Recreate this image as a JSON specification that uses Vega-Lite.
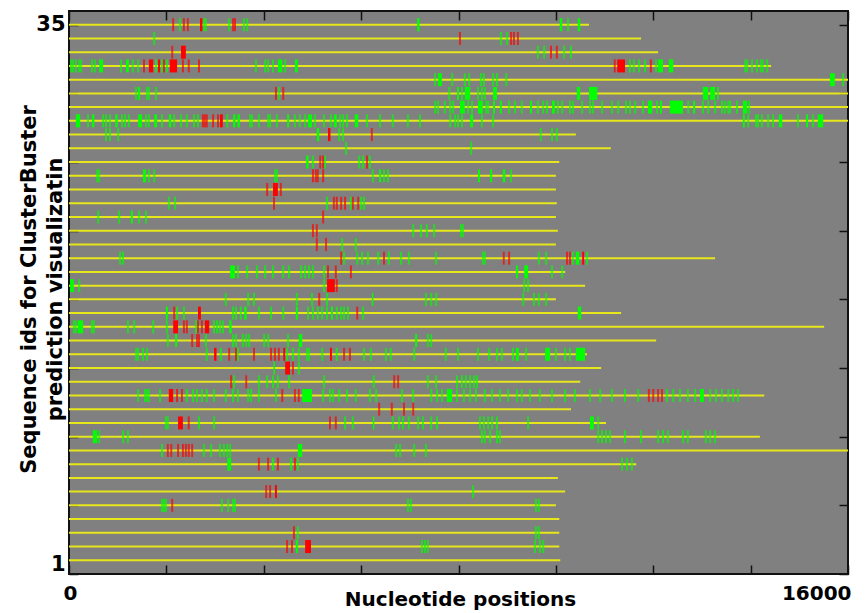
{
"$schema":"https://vega.github.io/schema/vega-lite/v6.json",
"width":779,"height":563,"autosize":"none",
"padding":{"left":69,"top":11,"right":18,"bottom":39},
"background":"white",
"config":{"view":{"fill":"#808080","stroke":"#111111","strokeWidth":2},
"axis":{"labelFont":"DejaVu Sans","titleFont":"DejaVu Sans","labelColor":"black","titleColor":"black","labelFontWeight":"bold","titleFontWeight":"bold","grid":false,"domain":false,"tickColor":"#111111","tickWidth":1.5}},
"datasets":{
"lines":[{"r":40,"len":10680},{"r":39,"len":11750},{"r":38,"len":12100},{"r":37,"len":14420},{"r":36,"len":16000},{"r":35,"len":16000},{"r":34,"len":16000},{"r":33,"len":16000},{"r":32,"len":10410},{"r":31,"len":11130},{"r":30,"len":10070},{"r":29,"len":10000},{"r":28,"len":10000},{"r":27,"len":10020},{"r":26,"len":10000},{"r":25,"len":10040},{"r":24,"len":10000},{"r":23,"len":13270},{"r":22,"len":10190},{"r":21,"len":10600},{"r":20,"len":10000},{"r":19,"len":11340},{"r":18,"len":15510},{"r":17,"len":12060},{"r":16,"len":10640},{"r":15,"len":10930},{"r":14,"len":10500},{"r":13,"len":14280},{"r":12,"len":10310},{"r":11,"len":11030},{"r":10,"len":14190},{"r":9,"len":16000},{"r":8,"len":11650},{"r":7,"len":10040},{"r":6,"len":10190},{"r":5,"len":10000},{"r":4,"len":10070},{"r":3,"len":10070},{"r":2,"len":10070},{"r":1,"len":10090}],
"marks":[
{"r":40,"c":"r","s":2140},{"r":40,"c":"g","s":2280},{"r":40,"c":"r","s":2360},{"r":40,"c":"r","s":2440},{"r":40,"c":"r","s":2690,"e":2740},{"r":40,"c":"g","s":2770},{"r":40,"c":"g","s":2810},{"r":40,"c":"g","s":3290},{"r":40,"c":"r","s":3370},{"r":40,"c":"r","s":3410},{"r":40,"c":"g","s":3590},{"r":40,"c":"g","s":3660},{"r":40,"c":"g","s":7150,"e":7200},{"r":40,"c":"g","s":10080,"e":10130},{"r":40,"c":"g","s":10250},{"r":40,"c":"g","s":10450,"e":10500},
{"r":39,"c":"g","s":1750},{"r":39,"c":"r","s":8030},{"r":39,"c":"g","s":8870},{"r":39,"c":"g","s":9000},{"r":39,"c":"r","s":9080},{"r":39,"c":"r","s":9140},{"r":39,"c":"r","s":9220},
{"r":38,"c":"r","s":2120},{"r":38,"c":"r","s":2300,"e":2400},{"r":38,"c":"g","s":9630},{"r":38,"c":"g","s":9760},{"r":38,"c":"r","s":9900},{"r":38,"c":"r","s":10020},{"r":38,"c":"g","s":10170},{"r":38,"c":"g","s":10310},
{"r":37,"c":"g","s":40},{"r":37,"c":"g","s":80},{"r":37,"c":"g","s":140},{"r":37,"c":"g","s":210},{"r":37,"c":"g","s":250},{"r":37,"c":"g","s":470},{"r":37,"c":"g","s":530},{"r":37,"c":"g","s":620,"e":700},{"r":37,"c":"g","s":1070},{"r":37,"c":"g","s":1170,"e":1230},{"r":37,"c":"g","s":1310},{"r":37,"c":"g","s":1420},{"r":37,"c":"r","s":1540},{"r":37,"c":"r","s":1640,"e":1730},{"r":37,"c":"g","s":1790},{"r":37,"c":"r","s":1830,"e":1870},{"r":37,"c":"g","s":1910},{"r":37,"c":"r","s":1950},{"r":37,"c":"g","s":2010},{"r":37,"c":"r","s":2070,"e":2220},{"r":37,"c":"r","s":2340},{"r":37,"c":"r","s":2460},{"r":37,"c":"r","s":2670},{"r":37,"c":"g","s":3840},{"r":37,"c":"g","s":4030},{"r":37,"c":"g","s":4090},{"r":37,"c":"g","s":4190},{"r":37,"c":"g","s":4290,"e":4380},{"r":37,"c":"g","s":4440},{"r":37,"c":"g","s":4640,"e":4700},{"r":37,"c":"r","s":11210},{"r":37,"c":"r","s":11260,"e":11420},{"r":37,"c":"g","s":11520},{"r":37,"c":"g","s":11600},{"r":37,"c":"g","s":11710},{"r":37,"c":"g","s":11830},{"r":37,"c":"r","s":11950},{"r":37,"c":"g","s":12060},{"r":37,"c":"g","s":12100,"e":12200},{"r":37,"c":"g","s":12320,"e":12410},{"r":37,"c":"g","s":13890},{"r":37,"c":"g","s":13930},{"r":37,"c":"g","s":14030},{"r":37,"c":"g","s":14130},{"r":37,"c":"g","s":14210},{"r":37,"c":"g","s":14250},{"r":37,"c":"g","s":14340},
{"r":36,"c":"g","s":7520},{"r":36,"c":"g","s":7580,"e":7660},{"r":36,"c":"g","s":7870},{"r":36,"c":"g","s":8130},{"r":36,"c":"g","s":8220},{"r":36,"c":"g","s":8460},{"r":36,"c":"g","s":8520},{"r":36,"c":"g","s":8710},{"r":36,"c":"g","s":8790},{"r":36,"c":"g","s":8980},{"r":36,"c":"g","s":15630,"e":15730},{"r":36,"c":"g","s":15900},
{"r":35,"c":"g","s":1380},{"r":35,"c":"g","s":1420,"e":1460},{"r":35,"c":"g","s":1600},{"r":35,"c":"g","s":1640},{"r":35,"c":"g","s":1790},{"r":35,"c":"r","s":4250},{"r":35,"c":"g","s":4310},{"r":35,"c":"r","s":4400},{"r":35,"c":"g","s":7810},{"r":35,"c":"g","s":7970,"e":8010},{"r":35,"c":"g","s":8070},{"r":35,"c":"g","s":8130,"e":8240},{"r":35,"c":"g","s":8400},{"r":35,"c":"g","s":8480},{"r":35,"c":"g","s":8540},{"r":35,"c":"g","s":8710,"e":8790},{"r":35,"c":"g","s":10430,"e":10500},{"r":35,"c":"g","s":10680,"e":10850},{"r":35,"c":"g","s":13020,"e":13130},{"r":35,"c":"g","s":13170,"e":13270},{"r":35,"c":"g","s":13330},
{"r":34,"c":"g","s":7520},{"r":34,"c":"g","s":7580},{"r":34,"c":"g","s":7720},{"r":34,"c":"g","s":7830},{"r":34,"c":"g","s":7890},{"r":34,"c":"g","s":8030,"e":8130},{"r":34,"c":"g","s":8200},{"r":34,"c":"g","s":8280},{"r":34,"c":"g","s":8400,"e":8500},{"r":34,"c":"g","s":8570},{"r":34,"c":"g","s":8610},{"r":34,"c":"g","s":8710,"e":8750},{"r":34,"c":"g","s":8850,"e":8890},{"r":34,"c":"g","s":9040},{"r":34,"c":"g","s":9160},{"r":34,"c":"g","s":9300},{"r":34,"c":"g","s":9470,"e":9510},{"r":34,"c":"g","s":9630},{"r":34,"c":"g","s":9740},{"r":34,"c":"g","s":9820},{"r":34,"c":"g","s":9920,"e":9980},{"r":34,"c":"g","s":10040},{"r":34,"c":"g","s":10130},{"r":34,"c":"g","s":10290},{"r":34,"c":"g","s":10350},{"r":34,"c":"g","s":10540},{"r":34,"c":"g","s":10700},{"r":34,"c":"g","s":10760},{"r":34,"c":"g","s":10950},{"r":34,"c":"g","s":11150},{"r":34,"c":"g","s":11280},{"r":34,"c":"g","s":11440},{"r":34,"c":"g","s":11520},{"r":34,"c":"g","s":11630},{"r":34,"c":"g","s":11790},{"r":34,"c":"g","s":11890,"e":11980},{"r":34,"c":"g","s":12080},{"r":34,"c":"g","s":12140,"e":12180},{"r":34,"c":"g","s":12340,"e":12610},{"r":34,"c":"g","s":12720},{"r":34,"c":"g","s":12820,"e":12860},{"r":34,"c":"g","s":13020},{"r":34,"c":"g","s":13130},{"r":34,"c":"g","s":13270},{"r":34,"c":"g","s":13410},{"r":34,"c":"g","s":13470},{"r":34,"c":"g","s":13540},{"r":34,"c":"g","s":13580},{"r":34,"c":"g","s":13720},{"r":34,"c":"g","s":13840,"e":13930},{"r":34,"c":"g","s":13970},
{"r":33,"c":"g","s":140,"e":230},{"r":33,"c":"g","s":390},{"r":33,"c":"g","s":470,"e":520},{"r":33,"c":"g","s":700},{"r":33,"c":"g","s":760},{"r":33,"c":"g","s":840},{"r":33,"c":"g","s":950,"e":1000},{"r":33,"c":"g","s":1090},{"r":33,"c":"g","s":1150},{"r":33,"c":"g","s":1230},{"r":33,"c":"g","s":1420,"e":1500},{"r":33,"c":"g","s":1580},{"r":33,"c":"g","s":1640},{"r":33,"c":"g","s":1750,"e":1810},{"r":33,"c":"g","s":1910},{"r":33,"c":"g","s":2050,"e":2100},{"r":33,"c":"g","s":2160},{"r":33,"c":"g","s":2300},{"r":33,"c":"g","s":2420},{"r":33,"c":"g","s":2570},{"r":33,"c":"g","s":2650},{"r":33,"c":"r","s":2750},{"r":33,"c":"r","s":2790},{"r":33,"c":"r","s":2830},{"r":33,"c":"r","s":2960},{"r":33,"c":"r","s":3060},{"r":33,"c":"r","s":3100,"e":3160},{"r":33,"c":"g","s":3250},{"r":33,"c":"g","s":3370,"e":3420},{"r":33,"c":"g","s":3460,"e":3510},{"r":33,"c":"g","s":3720},{"r":33,"c":"g","s":3760},{"r":33,"c":"g","s":3900},{"r":33,"c":"g","s":4090},{"r":33,"c":"g","s":4130},{"r":33,"c":"g","s":4270},{"r":33,"c":"g","s":4480,"e":4520},{"r":33,"c":"g","s":4640},{"r":33,"c":"g","s":4740},{"r":33,"c":"g","s":4850},{"r":33,"c":"g","s":4910,"e":4990},{"r":33,"c":"g","s":5050},{"r":33,"c":"g","s":5240},{"r":33,"c":"g","s":5380},{"r":33,"c":"g","s":5440,"e":5500},{"r":33,"c":"g","s":5570},{"r":33,"c":"g","s":5630},{"r":33,"c":"g","s":5710},{"r":33,"c":"g","s":5870,"e":5940},{"r":33,"c":"g","s":6120},{"r":33,"c":"g","s":6390},{"r":33,"c":"g","s":6650},{"r":33,"c":"g","s":6960},{"r":33,"c":"g","s":7210},{"r":33,"c":"g","s":7830},{"r":33,"c":"g","s":7930},{"r":33,"c":"g","s":7990},{"r":33,"c":"g","s":8070},{"r":33,"c":"g","s":8240,"e":8300},{"r":33,"c":"g","s":8480},{"r":33,"c":"g","s":8710},{"r":33,"c":"g","s":13840,"e":13880},{"r":33,"c":"g","s":13950},{"r":33,"c":"g","s":14110},{"r":33,"c":"g","s":14150},{"r":33,"c":"g","s":14230},{"r":33,"c":"g","s":14360},{"r":33,"c":"g","s":14460},{"r":33,"c":"g","s":14580,"e":14650},{"r":33,"c":"g","s":14970},{"r":33,"c":"g","s":15140,"e":15180},{"r":33,"c":"g","s":15280},{"r":33,"c":"g","s":15380,"e":15490},
{"r":32,"c":"g","s":760},{"r":32,"c":"g","s":840},{"r":32,"c":"g","s":1010},{"r":32,"c":"g","s":5090,"e":5140},{"r":32,"c":"r","s":5320,"e":5370},{"r":32,"c":"g","s":5550},{"r":32,"c":"g","s":5630},{"r":32,"c":"r","s":6220},{"r":32,"c":"g","s":9690},{"r":32,"c":"g","s":9920},{"r":32,"c":"g","s":10020},
{"r":31,"c":"g","s":5690},{"r":31,"c":"g","s":8260},
{"r":30,"c":"g","s":4870,"e":4920},{"r":30,"c":"g","s":5010},{"r":30,"c":"r","s":5160},{"r":30,"c":"r","s":5220},{"r":30,"c":"g","s":5260},{"r":30,"c":"g","s":5960},{"r":30,"c":"g","s":6040},{"r":30,"c":"r","s":6120},{"r":30,"c":"g","s":6180},
{"r":29,"c":"g","s":580},{"r":29,"c":"g","s":620},{"r":29,"c":"g","s":1520,"e":1580},{"r":29,"c":"g","s":1640},{"r":29,"c":"g","s":1750},{"r":29,"c":"g","s":4230},{"r":29,"c":"g","s":4270},{"r":29,"c":"r","s":5010},{"r":29,"c":"r","s":5070},{"r":29,"c":"r","s":5110},{"r":29,"c":"r","s":5220},{"r":29,"c":"g","s":6240},{"r":29,"c":"g","s":6370,"e":6410},{"r":29,"c":"g","s":6470},{"r":29,"c":"g","s":6550},{"r":29,"c":"g","s":8400,"e":8440},{"r":29,"c":"g","s":8650,"e":8690},{"r":29,"c":"g","s":8910,"e":8960},{"r":29,"c":"g","s":9080},
{"r":28,"c":"r","s":4070},{"r":28,"c":"r","s":4190,"e":4290},{"r":28,"c":"r","s":4350},
{"r":27,"c":"g","s":2050},{"r":27,"c":"g","s":2180},{"r":27,"c":"r","s":4210},{"r":27,"c":"g","s":5300},{"r":27,"c":"r","s":5440},{"r":27,"c":"r","s":5500},{"r":27,"c":"r","s":5590},{"r":27,"c":"r","s":5670},{"r":27,"c":"g","s":5790},{"r":27,"c":"r","s":5830},{"r":27,"c":"r","s":5940},{"r":27,"c":"g","s":6000},{"r":27,"c":"g","s":6060},
{"r":26,"c":"g","s":600},{"r":26,"c":"g","s":1030},{"r":26,"c":"g","s":1270,"e":1310},{"r":26,"c":"g","s":1440},{"r":26,"c":"g","s":1580},{"r":26,"c":"r","s":5220},
{"r":25,"c":"r","s":5010},{"r":25,"c":"r","s":5090},{"r":25,"c":"g","s":7070},{"r":25,"c":"g","s":7230},{"r":25,"c":"g","s":7350},{"r":25,"c":"g","s":7500},{"r":25,"c":"g","s":8050},{"r":25,"c":"g","s":8090},
{"r":24,"c":"r","s":5090},{"r":24,"c":"r","s":5280},{"r":24,"c":"g","s":5610},{"r":24,"c":"g","s":5890},
{"r":23,"c":"g","s":1050},{"r":23,"c":"g","s":1110},{"r":23,"c":"r","s":5590},{"r":23,"c":"g","s":5650},{"r":23,"c":"g","s":5920},{"r":23,"c":"g","s":6020},{"r":23,"c":"g","s":6140},{"r":23,"c":"g","s":6350},{"r":23,"c":"r","s":6470},{"r":23,"c":"g","s":6570},{"r":23,"c":"g","s":6820},{"r":23,"c":"g","s":6980},{"r":23,"c":"g","s":7540},{"r":23,"c":"g","s":8500},{"r":23,"c":"g","s":8540},{"r":23,"c":"r","s":8930},{"r":23,"c":"r","s":9040},{"r":23,"c":"g","s":9650},{"r":23,"c":"g","s":9800},{"r":23,"c":"r","s":10230},{"r":23,"c":"r","s":10290},{"r":23,"c":"g","s":10350},{"r":23,"c":"g","s":10410,"e":10480},{"r":23,"c":"r","s":10540,"e":10580},{"r":23,"c":"g","s":10640},
{"r":22,"c":"g","s":3310,"e":3410},{"r":22,"c":"g","s":3470},{"r":22,"c":"g","s":3660},{"r":22,"c":"g","s":3860},{"r":22,"c":"g","s":4030},{"r":22,"c":"g","s":4190},{"r":22,"c":"g","s":4400},{"r":22,"c":"g","s":4520},{"r":22,"c":"g","s":4770},{"r":22,"c":"g","s":4850},{"r":22,"c":"g","s":4930},{"r":22,"c":"g","s":5010},{"r":22,"c":"g","s":5240},{"r":22,"c":"r","s":5320},{"r":22,"c":"r","s":5480},{"r":22,"c":"r","s":5790},{"r":22,"c":"g","s":9180,"e":9220},{"r":22,"c":"g","s":9350,"e":9430},{"r":22,"c":"g","s":9920},{"r":22,"c":"g","s":10130},
{"r":21,"c":"g","s":20,"e":100},{"r":21,"c":"g","s":210},{"r":21,"c":"g","s":5240},{"r":21,"c":"r","s":5300,"e":5460},{"r":21,"c":"r","s":5500},{"r":21,"c":"g","s":9350},{"r":21,"c":"g","s":9430},
{"r":20,"c":"g","s":3220},{"r":20,"c":"g","s":3680},{"r":20,"c":"g","s":3800},{"r":20,"c":"g","s":4680},{"r":20,"c":"g","s":4990},{"r":20,"c":"r","s":5140},{"r":20,"c":"g","s":5300},{"r":20,"c":"g","s":6220,"e":6250},{"r":20,"c":"g","s":7330},{"r":20,"c":"g","s":7440},{"r":20,"c":"g","s":7540},{"r":20,"c":"g","s":9330},{"r":20,"c":"g","s":9550},{"r":20,"c":"g","s":9650},{"r":20,"c":"g","s":9800},
{"r":19,"c":"g","s":1990,"e":2030},{"r":19,"c":"r","s":2160},{"r":19,"c":"g","s":2220},{"r":19,"c":"g","s":2360},{"r":19,"c":"r","s":2650,"e":2710},{"r":19,"c":"g","s":3370},{"r":19,"c":"g","s":3430},{"r":19,"c":"g","s":3530},{"r":19,"c":"g","s":3600,"e":3650},{"r":19,"c":"g","s":3900},{"r":19,"c":"g","s":4150},{"r":19,"c":"g","s":4400},{"r":19,"c":"g","s":4660,"e":4700},{"r":19,"c":"g","s":4910},{"r":19,"c":"g","s":5010},{"r":19,"c":"g","s":5110},{"r":19,"c":"g","s":5200},{"r":19,"c":"g","s":5300},{"r":19,"c":"g","s":5380,"e":5420},{"r":19,"c":"g","s":5500},{"r":19,"c":"g","s":5590},{"r":19,"c":"g","s":5650},{"r":19,"c":"g","s":5730},{"r":19,"c":"r","s":5920},{"r":19,"c":"g","s":6040},{"r":19,"c":"g","s":10450,"e":10520},
{"r":18,"c":"g","s":100},{"r":18,"c":"g","s":140},{"r":18,"c":"g","s":180,"e":290},{"r":18,"c":"g","s":470},{"r":18,"c":"g","s":510},{"r":18,"c":"g","s":1210},{"r":18,"c":"g","s":1340},{"r":18,"c":"g","s":1730},{"r":18,"c":"g","s":2010},{"r":18,"c":"r","s":2140,"e":2240},{"r":18,"c":"r","s":2360},{"r":18,"c":"r","s":2420},{"r":18,"c":"g","s":2610},{"r":18,"c":"r","s":2650},{"r":18,"c":"r","s":2730},{"r":18,"c":"r","s":2790,"e":2880},{"r":18,"c":"g","s":2980},{"r":18,"c":"g","s":3040},{"r":18,"c":"g","s":3100},{"r":18,"c":"g","s":3160},{"r":18,"c":"g","s":3290,"e":3340},
{"r":17,"c":"g","s":2030},{"r":17,"c":"g","s":2180,"e":2220},{"r":17,"c":"r","s":2530},{"r":17,"c":"r","s":2630},{"r":17,"c":"r","s":2670},{"r":17,"c":"g","s":2810},{"r":17,"c":"g","s":3370},{"r":17,"c":"g","s":3430},{"r":17,"c":"g","s":3570},{"r":17,"c":"g","s":3640},{"r":17,"c":"g","s":3700},{"r":17,"c":"g","s":4010},{"r":17,"c":"g","s":4090},{"r":17,"c":"g","s":4500},{"r":17,"c":"g","s":4720,"e":4790},{"r":17,"c":"g","s":7110,"e":7150},{"r":17,"c":"g","s":7370},{"r":17,"c":"g","s":7440},
{"r":16,"c":"g","s":1380},{"r":16,"c":"g","s":1420},{"r":16,"c":"g","s":1520},{"r":16,"c":"g","s":1600},{"r":16,"c":"g","s":2830},{"r":16,"c":"r","s":2980,"e":3030},{"r":16,"c":"g","s":3120},{"r":16,"c":"r","s":3290},{"r":16,"c":"r","s":3430},{"r":16,"c":"g","s":3470},{"r":16,"c":"r","s":3800},{"r":16,"c":"r","s":4150},{"r":16,"c":"r","s":4230},{"r":16,"c":"r","s":4310},{"r":16,"c":"r","s":4400,"e":4440},{"r":16,"c":"g","s":4480},{"r":16,"c":"g","s":4600},{"r":16,"c":"g","s":4720},{"r":16,"c":"g","s":4890},{"r":16,"c":"g","s":4930},{"r":16,"c":"g","s":5200},{"r":16,"c":"r","s":5360,"e":5400},{"r":16,"c":"g","s":5500},{"r":16,"c":"r","s":5650},{"r":16,"c":"r","s":5770},{"r":16,"c":"g","s":6060},{"r":16,"c":"g","s":6200},{"r":16,"c":"g","s":6510},{"r":16,"c":"g","s":6610},{"r":16,"c":"g","s":7090},{"r":16,"c":"g","s":7740},{"r":16,"c":"g","s":7990},{"r":16,"c":"g","s":8400},{"r":16,"c":"g","s":8630},{"r":16,"c":"g","s":8790},{"r":16,"c":"g","s":8890},{"r":16,"c":"g","s":9120},{"r":16,"c":"g","s":9180,"e":9240},{"r":16,"c":"g","s":9390},{"r":16,"c":"g","s":9780,"e":9880},{"r":16,"c":"g","s":10000},{"r":16,"c":"g","s":10190},{"r":16,"c":"g","s":10290},{"r":16,"c":"g","s":10410,"e":10600},
{"r":15,"c":"g","s":4200,"e":4230},{"r":15,"c":"r","s":4440,"e":4540},{"r":15,"c":"r","s":4600},{"r":15,"c":"g","s":4720},
{"r":14,"c":"r","s":3330},{"r":14,"c":"g","s":3390},{"r":14,"c":"r","s":3640},{"r":14,"c":"g","s":3900},{"r":14,"c":"g","s":4070},{"r":14,"c":"g","s":4190},{"r":14,"c":"g","s":4290},{"r":14,"c":"g","s":4520},{"r":14,"c":"g","s":5240},{"r":14,"c":"g","s":6260},{"r":14,"c":"r","s":6680},{"r":14,"c":"r","s":6760},{"r":14,"c":"g","s":7370},{"r":14,"c":"g","s":7540},{"r":14,"c":"g","s":7970},{"r":14,"c":"g","s":8070},{"r":14,"c":"g","s":8150},{"r":14,"c":"g","s":8240},{"r":14,"c":"g","s":8320},{"r":14,"c":"g","s":8380},
{"r":13,"c":"g","s":1420},{"r":13,"c":"g","s":1560},{"r":13,"c":"g","s":1600},{"r":13,"c":"g","s":1640},{"r":13,"c":"g","s":1870},{"r":13,"c":"r","s":2050,"e":2140},{"r":13,"c":"r","s":2220},{"r":13,"c":"r","s":2320},{"r":13,"c":"g","s":2420},{"r":13,"c":"g","s":2550},{"r":13,"c":"g","s":2630},{"r":13,"c":"g","s":2730},{"r":13,"c":"g","s":2830},{"r":13,"c":"g","s":2980},{"r":13,"c":"g","s":3220},{"r":13,"c":"g","s":3370},{"r":13,"c":"g","s":3470},{"r":13,"c":"g","s":3680},{"r":13,"c":"g","s":3740},{"r":13,"c":"g","s":3900},{"r":13,"c":"g","s":4250},{"r":13,"c":"r","s":4380},{"r":13,"c":"r","s":4640},{"r":13,"c":"r","s":4720},{"r":13,"c":"g","s":4790,"e":4990},{"r":13,"c":"g","s":5220},{"r":13,"c":"g","s":5360},{"r":13,"c":"g","s":5420},{"r":13,"c":"g","s":5550},{"r":13,"c":"g","s":5710},{"r":13,"c":"g","s":5890},{"r":13,"c":"g","s":6180},{"r":13,"c":"g","s":6310},{"r":13,"c":"g","s":6840},{"r":13,"c":"g","s":7070},{"r":13,"c":"g","s":7440},{"r":13,"c":"g","s":7560},{"r":13,"c":"g","s":7660},{"r":13,"c":"g","s":7760,"e":7870},{"r":13,"c":"g","s":7970},{"r":13,"c":"g","s":8110},{"r":13,"c":"g","s":8240},{"r":13,"c":"g","s":8360},{"r":13,"c":"g","s":8540},{"r":13,"c":"g","s":8690},{"r":13,"c":"g","s":8850},{"r":13,"c":"g","s":9020},{"r":13,"c":"g","s":9200},{"r":13,"c":"g","s":9300},{"r":13,"c":"g","s":9470},{"r":13,"c":"g","s":9670},{"r":13,"c":"g","s":9920},{"r":13,"c":"g","s":10190},{"r":13,"c":"g","s":10390},{"r":13,"c":"g","s":10700},{"r":13,"c":"g","s":10910},{"r":13,"c":"g","s":11150},{"r":13,"c":"g","s":11420},{"r":13,"c":"g","s":11690},{"r":13,"c":"r","s":11910},{"r":13,"c":"r","s":12000},{"r":13,"c":"r","s":12100},{"r":13,"c":"r","s":12180},{"r":13,"c":"g","s":12280},{"r":13,"c":"g","s":12410},{"r":13,"c":"g","s":12550},{"r":13,"c":"g","s":12710},{"r":13,"c":"g","s":12860},{"r":13,"c":"g","s":12960,"e":13040},{"r":13,"c":"g","s":13170},{"r":13,"c":"g","s":13290},{"r":13,"c":"g","s":13410},{"r":13,"c":"g","s":13540},{"r":13,"c":"g","s":13640},{"r":13,"c":"g","s":13740},
{"r":12,"c":"r","s":6370},{"r":12,"c":"r","s":6630},{"r":12,"c":"r","s":6880},{"r":12,"c":"r","s":7070},
{"r":11,"c":"g","s":1990},{"r":11,"c":"g","s":2030},{"r":11,"c":"r","s":2240,"e":2340},{"r":11,"c":"r","s":2460},{"r":11,"c":"g","s":2670},{"r":11,"c":"g","s":2980},{"r":11,"c":"r","s":5360},{"r":11,"c":"r","s":5480},{"r":11,"c":"g","s":5670},{"r":11,"c":"g","s":5830},{"r":11,"c":"g","s":6240,"e":6270},{"r":11,"c":"g","s":6650},{"r":11,"c":"g","s":6780},{"r":11,"c":"g","s":6860},{"r":11,"c":"g","s":6980},{"r":11,"c":"g","s":7170},{"r":11,"c":"g","s":7270},{"r":11,"c":"g","s":7440},{"r":11,"c":"g","s":7560},{"r":11,"c":"g","s":8440},{"r":11,"c":"g","s":8520},{"r":11,"c":"g","s":8610},{"r":11,"c":"g","s":8690},{"r":11,"c":"g","s":8790},{"r":11,"c":"g","s":9430},{"r":11,"c":"g","s":10700,"e":10780},{"r":11,"c":"g","s":10870},
{"r":10,"c":"g","s":490,"e":580},{"r":10,"c":"g","s":620},{"r":10,"c":"g","s":1110},{"r":10,"c":"g","s":1210},{"r":10,"c":"g","s":8480},{"r":10,"c":"g","s":8540},{"r":10,"c":"g","s":8650},{"r":10,"c":"g","s":8790},{"r":10,"c":"g","s":8850},{"r":10,"c":"g","s":10870},{"r":10,"c":"g","s":10950},{"r":10,"c":"g","s":11030},{"r":10,"c":"g","s":11110},{"r":10,"c":"g","s":11420},{"r":10,"c":"g","s":11750},{"r":10,"c":"g","s":12100},{"r":10,"c":"g","s":12200},{"r":10,"c":"g","s":12300},{"r":10,"c":"g","s":12610},{"r":10,"c":"g","s":12710},{"r":10,"c":"g","s":13080},{"r":10,"c":"g","s":13170},{"r":10,"c":"g","s":13270},
{"r":9,"c":"g","s":1910},{"r":9,"c":"r","s":2030},{"r":9,"c":"r","s":2100},{"r":9,"c":"r","s":2240},{"r":9,"c":"r","s":2340},{"r":9,"c":"r","s":2400},{"r":9,"c":"r","s":2460},{"r":9,"c":"r","s":2530},{"r":9,"c":"g","s":2770},{"r":9,"c":"g","s":2920},{"r":9,"c":"g","s":3100},{"r":9,"c":"g","s":3180},{"r":9,"c":"g","s":3250},{"r":9,"c":"g","s":3310},{"r":9,"c":"g","s":4700,"e":4790},{"r":9,"c":"g","s":6720},{"r":9,"c":"g","s":6800},{"r":9,"c":"g","s":7090},{"r":9,"c":"g","s":7330},
{"r":8,"c":"g","s":3250,"e":3330},{"r":8,"c":"r","s":3900},{"r":8,"c":"r","s":4090},{"r":8,"c":"g","s":4190},{"r":8,"c":"r","s":4290},{"r":8,"c":"g","s":4560},{"r":8,"c":"r","s":4640},{"r":8,"c":"g","s":4700},{"r":8,"c":"g","s":11360},{"r":8,"c":"g","s":11460},{"r":8,"c":"g","s":11560},
{"r":6,"c":"r","s":4050},{"r":6,"c":"r","s":4130},{"r":6,"c":"r","s":4230,"e":4270},{"r":6,"c":"g","s":8300},
{"r":5,"c":"g","s":1910},{"r":5,"c":"g","s":1950},{"r":5,"c":"g","s":1990},{"r":5,"c":"r","s":2120},{"r":5,"c":"g","s":3140},{"r":5,"c":"g","s":3270},{"r":5,"c":"g","s":3370},{"r":5,"c":"g","s":3410},{"r":5,"c":"g","s":6960},{"r":5,"c":"g","s":7020},{"r":5,"c":"g","s":9590},{"r":5,"c":"g","s":9650},
{"r":3,"c":"r","s":4620},{"r":3,"c":"g","s":4700},{"r":3,"c":"g","s":9590},{"r":3,"c":"g","s":9650},
{"r":2,"c":"r","s":4480},{"r":2,"c":"r","s":4580},{"r":2,"c":"g","s":4660,"e":4700},{"r":2,"c":"r","s":4850,"e":4970},{"r":2,"c":"g","s":7250},{"r":2,"c":"g","s":7310},{"r":2,"c":"g","s":7370},{"r":2,"c":"g","s":9570},{"r":2,"c":"g","s":9670},{"r":2,"c":"g","s":9740}
]},
"resolve":{"axis":{"x":"independent","y":"independent"}},
"layer":[
{"data":{"name":"lines"},
"mark":{"type":"rule","color":"#e6e61a","strokeWidth":2},
"encoding":{
"x":{"field":"len","type":"quantitative","scale":{"domain":[0,16000],"nice":false,"zero":false,"padding":0},
"axis":{"orient":"bottom","values":[0,2000,4000,6000,8000,10000,12000,14000,16000],"labelExpr":"datum.value==0||datum.value==16000 ? format(datum.value,'d') : ''","tickSize":-9,"labelPadding":18,"labelFontSize":20,"labelAlign":{"condition":{"test":"datum.value == 16000","value":"right"},"value":"center"},"labelOffset":{"condition":{"test":"datum.value == 16000","value":3},"value":1},"title":"Nucleotide positions","titleFontSize":20,"titleBaseline":"alphabetic","titleX":391,"titleY":31}},
"x2":{"datum":0},
"y":{"field":"r","type":"quantitative","scale":{"domain":[0,41],"nice":false,"zero":false,"padding":0},
"axis":{"orient":"left","values":[0,5,10,15,20,25,30,35,40],"labelExpr":"datum.value==0 ? '1' : datum.value==40 ? '35' : ''","tickSize":-9,"labelPadding":13,"labelFontSize":21,"labelBaseline":{"condition":{"test":"datum.value == 0","value":"bottom"},"value":"middle"},"title":["Sequence ids for ClusterBuster","prediction visualizatin"],"titleFontSize":21,"titleLineHeight":26,"titleAngle":-90,"titleAlign":"center","titleBaseline":"top","titleX":-51,"titleY":278}}}},
{"data":{"name":"marks"},"transform":[{"filter":"!isValid(datum.e)"}],
"mark":{"type":"tick","orient":"vertical","thickness":2,"size":13},
"encoding":{
"x":{"field":"s","type":"quantitative","axis":{"orient":"top","values":[0,2000,4000,6000,8000,10000,12000,14000,16000],"labels":false,"tickSize":-9,"title":null}},
"y":{"field":"r","type":"quantitative","axis":{"orient":"right","values":[0,5,10,15,20,25,30,35,40],"labels":false,"tickSize":-9,"title":null}},
"color":{"field":"c","type":"nominal","scale":{"domain":["g","r"],"range":["#00ff00","#ff0000"]},"legend":null}}},
{"data":{"name":"marks"},"transform":[{"filter":"isValid(datum.e)"}],
"mark":{"type":"bar","orient":"horizontal","size":13},
"encoding":{
"x":{"field":"s","type":"quantitative","axis":null},
"x2":{"field":"e"},
"y":{"field":"r","type":"quantitative","axis":null},
"color":{"field":"c","type":"nominal","scale":{"domain":["g","r"],"range":["#00ff00","#ff0000"]},"legend":null}}}
]
}
